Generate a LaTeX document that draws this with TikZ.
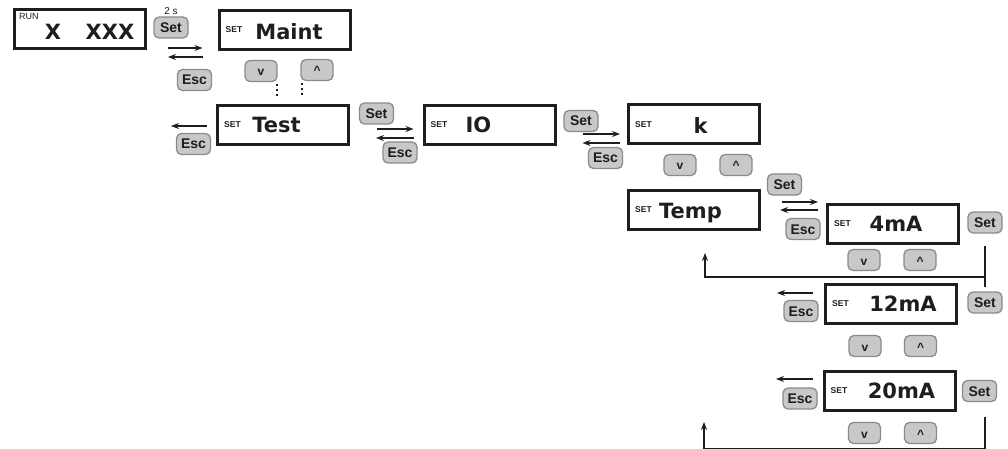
\documentclass[tikz,border=0pt]{standalone}
\usepackage{fontspec}
\setmainfont{Liberation Sans}
\newfontfamily\lcdfont{DejaVu Sans}
\usetikzlibrary{arrows.meta,calc}
\definecolor{tinta}{RGB}{30,30,30}
\definecolor{grisb}{RGB}{201,199,199}
\definecolor{grisr}{RGB}{140,138,138}
\tikzset{
  caja/.style={draw=tinta, line width=3pt, minimum width=131pt, minimum height=39pt, inner sep=0pt},
  disp/.style={caja, label={[tag, anchor=west, xshift=8pt]west:SET}},
  tag/.style={inner sep=0pt, font=\bfseries\fontsize{8.5}{9}\selectfont, text=tinta},
  big/.style={inner sep=0pt, text height=15.3pt, text depth=0pt, font=\lcdfont\bfseries\fontsize{21}{24}\selectfont, text=tinta},
  btn/.style={draw=grisr, fill=grisb, line width=1.3pt, rounded corners=5pt, minimum width=34pt, minimum height=21pt, inner sep=0pt, text height=10pt, text depth=0pt, font=\bfseries\fontsize{14}{16}\selectfont, text=tinta},
  nav/.style={btn, minimum width=32pt, font=\bfseries\fontsize{12}{14}\selectfont},
  fl/.style={-{Stealth[length=8pt,width=6pt]}, line width=1.2pt, tinta},
  ret/.style={line width=1.2pt, tinta},
  puntos/.style={line width=2.2pt, dash pattern=on 2pt off 3pt, tinta},
}

\begin{document}
\begin{tikzpicture}[x=1pt,y=1pt]
  \useasboundingbox (0,0) rectangle (1008,-449);
  % run level
  \node[caja] (run) at (80,-29.5) {};
  \node[tag, font=\fontsize{9}{10}\selectfont, anchor=north west] (runtag) at ([xshift=6pt,yshift=-4.5pt]run.north west) {RUN};
  \node[big] (runx) at (53,-32) {X};
  \node[big] (runxxx) at (110,-32) {XXX};
  \node[font=\fontsize{10}{12}\selectfont, text=tinta, inner sep=0pt] (dos) at (171,-11.5) {2 s};
  \node[btn] (set0) at (171,-27.5) {Set};
  \node[btn] (esc0) at (194.5,-80) {Esc};
  % menu
  \node[disp] (maint) at (284.5,-30) {};
  \node[big] (mainttxt) at (289,-32) {Maint};
  \node[nav] (dn1) at (261,-71) {v};
  \node[nav] (up1) at (317,-70) {\textasciicircum};
  \draw[puntos] (dn1.south east) ++(-1,-2) -- ++(0,-13);
  \draw[puntos] (up1.south west) ++(2,-2) -- ++(0,-13);
  \node[disp] (test) at (283,-125) {};
  \node[big] (testtxt) at (276.5,-125) {Test};
  \node[btn] (esc1) at (193.5,-144) {Esc};
  \node[btn] (set1) at (376.5,-113.5) {Set};
  \node[btn] (esc2) at (400,-152.5) {Esc};
  \node[disp] (io) at (489.5,-125) {};
  \node[big] (iotxt) at (478.5,-125) {IO};
  \node[btn] (set2) at (581,-121) {Set};
  \node[btn] (esc3) at (605.5,-158) {Esc};
  \node[disp] (k) at (694,-124.5) {};
  \node[big] (ktxt) at (700.5,-126) {k};
  \node[nav] (dn2) at (680,-165) {v};
  \node[nav] (up2) at (736,-165) {\textasciicircum};
  \node[disp] (temp) at (694,-210) {};
  \node[big] (temptxt) at (690.5,-211) {Temp};
  \node[btn] (set3) at (784.5,-184.5) {Set};
  \node[btn] (esc4) at (803,-229) {Esc};
  % current points
  \node[disp] (ma4) at (893,-224) {};
  \node[big] (ma4txt) at (896,-224) {4mA};
  \node[btn] (set4) at (985,-222.5) {Set};
  \node[nav] (dn3) at (864,-260) {v};
  \node[nav] (up3) at (920,-260) {\textasciicircum};
  \node[disp] (ma12) at (891,-304) {};
  \node[big] (ma12txt) at (903,-303.5) {12mA};
  \node[btn] (esc5) at (801,-311) {Esc};
  \node[btn] (set12) at (985,-302.5) {Set};
  \node[nav] (dn4) at (865,-346) {v};
  \node[nav] (up4) at (920.5,-346) {\textasciicircum};
  \node[disp] (ma20) at (889.5,-390.5) {};
  \node[big] (ma20txt) at (901.5,-391) {20mA};
  \node[btn] (esc6) at (800,-398.5) {Esc};
  \node[btn] (set20) at (979.5,-391) {Set};
  \node[nav] (dn5) at (864.5,-433) {v};
  \node[nav] (up5) at (920.5,-433) {\textasciicircum};
  % set / esc arrows
  \draw[fl, shorten <=21pt, shorten >=15pt] (run.east |- 0,-48) -- (maint.west |- 0,-48);
  \draw[fl, shorten <=15pt, shorten >=21pt] (maint.west |- 0,-57) -- (run.east |- 0,-57);
  \draw[fl, shorten <=27pt, shorten >=9pt] (test.east |- 0,-129) -- (io.west |- 0,-129);
  \draw[fl, shorten <=9pt, shorten >=26pt] (io.west |- 0,-138) -- (test.east |- 0,-138);
  \draw[fl, shorten <=26pt, shorten >=7pt] (io.east |- 0,-134) -- (k.west |- 0,-134);
  \draw[fl, shorten <=7pt, shorten >=26pt] (k.west |- 0,-143) -- (io.east |- 0,-143);
  \draw[fl, shorten <=21pt, shorten >=8pt] (temp.east |- 0,-202) -- (ma4.west |- 0,-202);
  \draw[fl, shorten <=8pt, shorten >=19pt] (ma4.west |- 0,-210) -- (temp.east |- 0,-210);
  \coordinate (esct) at (171,-126);
  \coordinate (esc12) at (777,-293);
  \coordinate (esc20) at (776,-379);
  \draw[fl, shorten <=9pt] (test.west |- esct) -- (esct);
  \draw[fl, shorten <=11pt] (ma12.west |- esc12) -- (esc12);
  \draw[fl, shorten <=10pt] (ma20.west |- esc20) -- (esc20);
  % return lines
  \coordinate (j1) at (985,-277);
  \coordinate (vuelta1) at (705,-253);
  \coordinate (vuelta2) at (704,-422);
  \draw[ret, shorten <=12.4pt, shorten >=4pt] (set4.south) -- (set12.north);
  \draw[fl] (j1) -| (vuelta1);
  \draw[fl] ($(set20.south -| j1)+(0,-15)$) -- ++(0,-31) -| (vuelta2);
\end{tikzpicture}
\end{document}
